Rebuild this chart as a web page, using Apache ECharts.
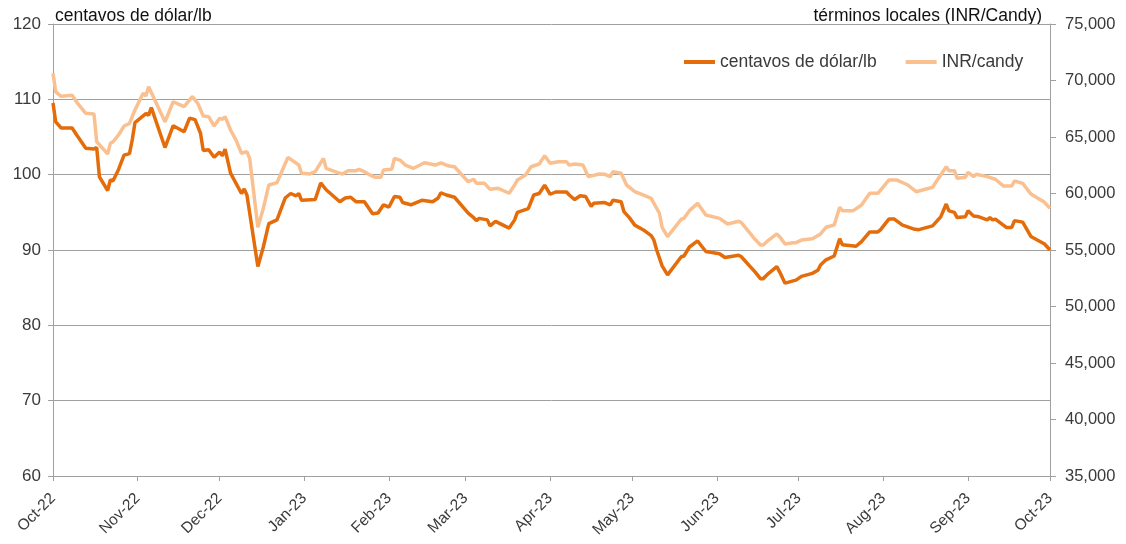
<!DOCTYPE html>
<html><head><meta charset="utf-8">
<script src="https://cdn.jsdelivr.net/npm/echarts@6/dist/echarts.min.js"></script>
<style>html,body{margin:0;padding:0;background:#fff}#c{width:1126px;height:544px}</style>
</head><body><div id="c"></div>
<script>
const usDates = ['2022-10-01','2022-10-02','2022-10-04','2022-10-08','2022-10-10','2022-10-13','2022-10-16','2022-10-17','2022-10-18','2022-10-21','2022-10-22','2022-10-23','2022-10-25','2022-10-27','2022-10-29','2022-10-30','2022-10-31','2022-11-04','2022-11-05','2022-11-06','2022-11-11','2022-11-14','2022-11-18','2022-11-20','2022-11-22','2022-11-24','2022-11-25','2022-11-27','2022-11-29','2022-12-01','2022-12-02','2022-12-03','2022-12-05','2022-12-09','2022-12-10','2022-12-11','2022-12-15','2022-12-17','2022-12-19','2022-12-22','2022-12-25','2022-12-27','2022-12-29','2022-12-30','2022-12-31','2023-01-05','2023-01-07','2023-01-09','2023-01-14','2023-01-16','2023-01-18','2023-01-20','2023-01-23','2023-01-26','2023-01-28','2023-01-30','2023-02-01','2023-02-03','2023-02-05','2023-02-06','2023-02-09','2023-02-13','2023-02-17','2023-02-19','2023-02-20','2023-02-22','2023-02-25','2023-03-02','2023-03-04','2023-03-05','2023-03-06','2023-03-09','2023-03-10','2023-03-12','2023-03-17','2023-03-19','2023-03-20','2023-03-24','2023-03-26','2023-03-28','2023-03-30','2023-04-01','2023-04-03','2023-04-07','2023-04-08','2023-04-10','2023-04-12','2023-04-14','2023-04-16','2023-04-17','2023-04-21','2023-04-23','2023-04-24','2023-04-27','2023-04-28','2023-04-30','2023-05-02','2023-05-05','2023-05-08','2023-05-09','2023-05-10','2023-05-12','2023-05-14','2023-05-19','2023-05-20','2023-05-22','2023-05-25','2023-05-28','2023-06-02','2023-06-04','2023-06-09','2023-06-10','2023-06-13','2023-06-15','2023-06-17','2023-06-18','2023-06-20','2023-06-23','2023-06-24','2023-06-26','2023-06-28','2023-06-30','2023-07-02','2023-07-06','2023-07-08','2023-07-09','2023-07-11','2023-07-14','2023-07-16','2023-07-17','2023-07-22','2023-07-24','2023-07-27','2023-07-30','2023-07-31','2023-08-03','2023-08-05','2023-08-08','2023-08-12','2023-08-14','2023-08-19','2023-08-22','2023-08-24','2023-08-25','2023-08-27','2023-08-28','2023-08-31','2023-09-01','2023-09-03','2023-09-05','2023-09-08','2023-09-09','2023-09-10','2023-09-11','2023-09-15','2023-09-17','2023-09-18','2023-09-21','2023-09-24','2023-09-29','2023-10-01'];
const usValues = [109.5,107.0,106.2,106.2,105.1,103.5,103.4,103.6,99.7,97.9,99.3,99.2,100.7,102.6,102.8,104.6,106.9,108.1,107.9,108.9,103.6,106.5,105.7,107.5,107.3,105.5,103.2,103.3,102.3,103.0,102.5,103.4,100.2,97.5,98.1,97.3,87.8,90.4,93.5,94.0,96.9,97.5,97.2,97.5,96.6,96.7,98.9,98.0,96.4,96.9,97.0,96.4,96.4,94.8,94.9,96.0,95.7,97.1,97.0,96.3,96.0,96.6,96.4,96.9,97.6,97.3,97.0,94.9,94.3,93.9,94.2,94.0,93.2,93.8,92.9,94.0,95.0,95.5,97.3,97.5,98.6,97.4,97.7,97.7,97.3,96.7,97.2,97.1,95.8,96.2,96.3,96.0,96.6,96.4,95.1,94.3,93.3,92.7,91.9,91.3,90.0,87.9,86.7,89.1,89.2,90.4,91.2,89.8,89.5,89.0,89.3,89.1,87.9,87.1,86.2,86.2,86.9,87.8,87.1,85.6,85.8,86.0,86.5,86.9,87.3,88.0,88.7,89.2,91.5,90.7,90.5,91.1,92.4,92.4,92.7,94.1,94.1,93.3,92.8,92.7,93.2,94.4,96.1,95.2,95.0,94.3,94.4,95.2,94.5,94.4,94.0,94.3,94.0,94.1,93.0,93.0,93.9,93.7,91.8,90.8,90.0];

const inrDates = ['2022-10-01','2022-10-02','2022-10-04','2022-10-08','2022-10-10','2022-10-13','2022-10-16','2022-10-17','2022-10-21','2022-10-22','2022-10-23','2022-10-25','2022-10-27','2022-10-29','2022-10-31','2022-11-03','2022-11-04','2022-11-05','2022-11-11','2022-11-14','2022-11-18','2022-11-21','2022-11-23','2022-11-25','2022-11-27','2022-11-29','2022-12-01','2022-12-02','2022-12-03','2022-12-05','2022-12-07','2022-12-09','2022-12-11','2022-12-12','2022-12-15','2022-12-17','2022-12-19','2022-12-22','2022-12-24','2022-12-26','2022-12-30','2022-12-31','2023-01-03','2023-01-05','2023-01-08','2023-01-09','2023-01-14','2023-01-15','2023-01-17','2023-01-20','2023-01-21','2023-01-23','2023-01-25','2023-01-27','2023-01-29','2023-01-30','2023-02-02','2023-02-03','2023-02-05','2023-02-07','2023-02-10','2023-02-14','2023-02-18','2023-02-20','2023-02-23','2023-02-25','2023-03-02','2023-03-04','2023-03-05','2023-03-08','2023-03-10','2023-03-13','2023-03-17','2023-03-19','2023-03-20','2023-03-23','2023-03-25','2023-03-28','2023-03-30','2023-04-01','2023-04-04','2023-04-07','2023-04-08','2023-04-10','2023-04-13','2023-04-15','2023-04-19','2023-04-21','2023-04-23','2023-04-24','2023-04-27','2023-04-29','2023-05-02','2023-05-05','2023-05-08','2023-05-11','2023-05-12','2023-05-14','2023-05-19','2023-05-20','2023-05-22','2023-05-25','2023-05-28','2023-06-02','2023-06-05','2023-06-09','2023-06-10','2023-06-13','2023-06-15','2023-06-17','2023-06-18','2023-06-20','2023-06-23','2023-06-24','2023-06-26','2023-06-29','2023-06-30','2023-07-02','2023-07-06','2023-07-09','2023-07-11','2023-07-14','2023-07-16','2023-07-17','2023-07-21','2023-07-24','2023-07-27','2023-07-30','2023-08-03','2023-08-06','2023-08-10','2023-08-13','2023-08-19','2023-08-24','2023-08-25','2023-08-27','2023-08-28','2023-08-31','2023-09-01','2023-09-03','2023-09-04','2023-09-08','2023-09-11','2023-09-14','2023-09-17','2023-09-18','2023-09-21','2023-09-24','2023-09-29','2023-10-01'];
const inrValues = [70640,69000,68600,68700,67980,67100,67040,64580,63500,64440,64580,65180,65970,66210,67390,68870,68630,69450,66350,68120,67680,68570,67980,66860,66800,65970,66650,66570,66800,65620,64730,63560,63700,63110,57010,58690,60750,60960,62080,63200,62520,61790,61730,61930,63110,62230,61790,61730,62020,62020,62140,61930,61640,61430,61430,62080,62140,63110,62960,62520,62230,62720,62520,62720,62430,62370,61040,61260,60900,60900,60370,60460,60020,60750,61190,61640,62370,62610,63340,62670,62810,62810,62520,62610,62520,61490,61730,61700,61490,61930,61790,60750,60160,59870,59570,58250,57010,56180,57720,57800,58480,59130,58100,57800,57300,57540,57420,56530,55950,55440,55440,55880,56420,56180,55530,55650,55650,55880,56000,56420,57010,57210,58780,58480,58480,58980,60020,60020,61190,61190,60750,60160,60550,62370,62020,62020,61340,61430,61880,61490,61700,61490,61260,60660,60660,61110,60900,59960,59220,58690];

const tickDates = ['2022-10-01','2022-11-01','2022-12-01','2023-01-01','2023-02-01','2023-03-01','2023-04-01','2023-05-01','2023-06-01','2023-07-01','2023-08-01','2023-09-01','2023-10-01'];
const tickLabels = ['Oct-22','Nov-22','Dec-22','Jan-23','Feb-23','Mar-23','Apr-23','May-23','Jun-23','Jul-23','Aug-23','Sep-23','Oct-23'];
const seriesNames = ['centavos de dólar/lb','INR/candy'];
const leftAxisTitle = 'centavos de dólar/lb';
const rightAxisTitle = 'términos locales (INR/Candy)';

const FONT = 'Liberation Sans, Arial, sans-serif';
const TXT = '#3a3a3a';
const GRID = '#a0a0a0';
const ts = s => +echarts.time.parse(s);
const tickTs = tickDates.map(ts);
const labelOf = v => { const i = tickTs.indexOf(v); return i >= 0 ? tickLabels[i] : ''; };

const chart = echarts.init(document.getElementById('c'), null, {renderer: 'canvas'});
chart.setOption({
  animation: false,
  textStyle: {fontFamily: FONT},
  grid: {left: 53, right: 76, top: 24, bottom: 68, containLabel: false},
  graphic: [
    {type: 'text', left: 55, top: 7, style: {text: leftAxisTitle, font: '17.5px ' + FONT, fill: '#111'}},
    {type: 'text', right: 84, top: 7, style: {text: rightAxisTitle, font: '17.5px ' + FONT, fill: '#111'}}
  ],
  legend: {
    left: 684, top: 53, padding: 0, icon: 'rect', itemWidth: 31, itemHeight: 4, itemGap: 29,
    textStyle: {fontSize: 17.5, color: TXT, fontFamily: FONT},
    data: seriesNames
  },
  xAxis: {
    type: 'value',
    min: tickTs[0], max: tickTs[tickTs.length - 1],
    axisLine: {show: true, onZero: false, lineStyle: {color: GRID, width: 1}},
    axisTick: {show: true, length: 5, customValues: tickTs, lineStyle: {color: GRID}},
    splitLine: {show: false},
    axisLabel: {customValues: tickTs, rotate: 45, margin: 20, fontSize: 15.5, color: TXT, fontFamily: FONT,
      formatter: v => labelOf(v), showMinLabel: true, showMaxLabel: true}
  },
  yAxis: [
    {type: 'value', min: 60, max: 120, interval: 10, position: 'left',
      axisLine: {show: true, lineStyle: {color: GRID, width: 1}},
      axisTick: {show: true, length: 5, lineStyle: {color: GRID}},
      splitLine: {show: true, lineStyle: {color: GRID, width: 1}},
      axisLabel: {fontSize: 17, color: TXT, margin: 12, fontFamily: FONT}},
    {type: 'value', min: 35000, max: 75000, interval: 5000, position: 'right',
      axisLine: {show: true, lineStyle: {color: GRID, width: 1}},
      axisTick: {show: true, length: 6, lineStyle: {color: GRID}},
      splitLine: {show: false},
      axisLabel: {fontSize: 16.5, color: TXT, margin: 15, fontFamily: FONT,
        formatter: v => v.toLocaleString('en-US')}}
  ],
  series: [
    {name: seriesNames[0], type: 'line', yAxisIndex: 0, showSymbol: false, symbol: 'none',
      color: '#E46C0A', lineStyle: {width: 3.5, color: '#E46C0A'},
      data: usDates.map((d, i) => [ts(d), usValues[i]])},
    {name: seriesNames[1], type: 'line', yAxisIndex: 1, showSymbol: false, symbol: 'none',
      color: '#FAC090', lineStyle: {width: 3.5, color: '#FAC090'},
      data: inrDates.map((d, i) => [ts(d), inrValues[i]])}
  ]
});
</script></body></html>
